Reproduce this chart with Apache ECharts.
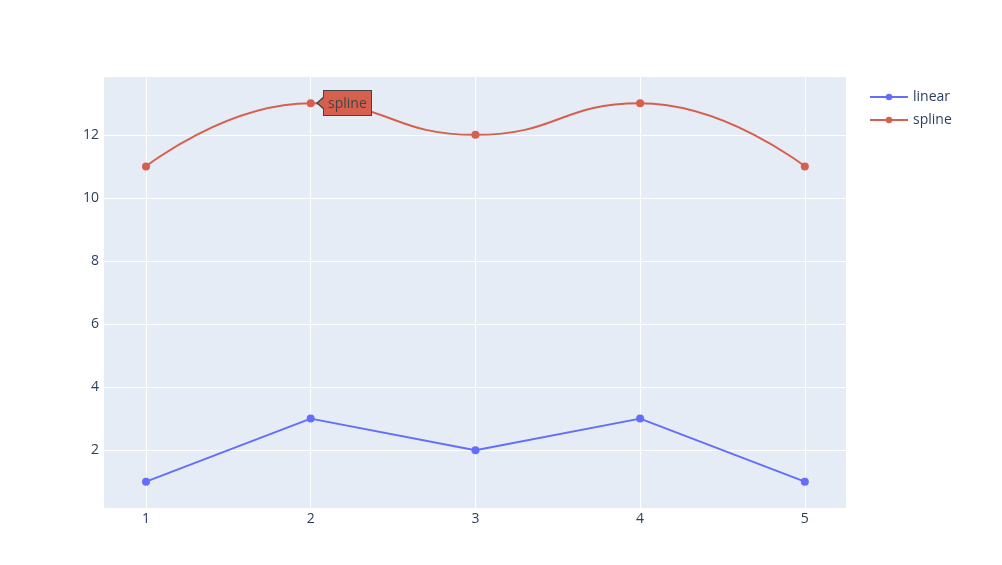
<!DOCTYPE html>
<html>
<head>
<meta charset="utf-8">
<script src="https://cdn.jsdelivr.net/npm/echarts@6/dist/echarts.min.js"></script>
<style>html,body{margin:0;padding:0;background:#fff}#c{width:1002px;height:565px}</style>
</head>
<body>
<div id="c"></div>
<script>
var xValues = [1, 2, 3, 4, 5];
var linearValues = [1, 3, 2, 3, 1];
var splineValues = [11, 13, 12, 13, 11];
var xTicks = [1, 2, 3, 4, 5];
var yTicks = [2, 4, 6, 8, 10, 12];
var seriesNames = ['linear', 'spline'];
var colors = ['#636efa', '#d6604d'];

var chart = echarts.init(document.getElementById('c'), null, {renderer: 'canvas'});
function pairs(vals) { return xValues.map(function (x, i) { return [x, vals[i]]; }); }
var labelFont = {color: '#2a3f5f', fontSize: 14, fontFamily: 'Open Sans'};
chart.setOption({
  animation: false,
  color: colors,
  grid: {left: 104, top: 77, right: 156, bottom: 57, show: true, backgroundColor: '#e5ecf6', borderWidth: 0},
  xAxis: {
    type: 'value', min: 0.745, max: 5.25,
    axisLine: {show: false},
    axisTick: {show: false, customValues: xTicks},
    axisLabel: Object.assign({customValues: xTicks, margin: 4}, labelFont),
    splitLine: {show: true, lineStyle: {color: '#ffffff', width: 1}}
  },
  yAxis: {
    type: 'value', min: 0.165, max: 13.835,
    axisLine: {show: false},
    axisTick: {show: false, customValues: yTicks},
    axisLabel: Object.assign({customValues: yTicks, margin: 5}, labelFont),
    splitLine: {show: true, lineStyle: {color: '#ffffff', width: 1}}
  },
  legend: {
    orient: 'vertical', left: 864, top: 85, itemGap: 9, itemWidth: 38, itemHeight: 8,
    textStyle: {color: '#2a3f5f', fontSize: 14, fontFamily: 'Open Sans'},
    data: seriesNames
  },
  tooltip: {
    trigger: 'item', triggerOn: 'none', alwaysShowContent: true,
    backgroundColor: 'transparent', borderWidth: 0, padding: 0,
    transitionDuration: 0,
    extraCssText: 'box-shadow:none;',
    position: function (pt) { return [pt[0] + 12, pt[1] - 13]; },
    formatter: function (p) {
      var c = p.color;
      return '<div style="position:relative;background:' + c + ';border:1px solid #444;color:#444;' +
        'font:14px \'Open Sans\',sans-serif;padding:2px 4px;line-height:20px;">' + p.seriesName +
        '<span style="position:absolute;left:-8px;top:5px;width:0;height:0;border-top:7px solid transparent;border-bottom:7px solid transparent;border-right:8px solid #444;"></span>' +
        '<span style="position:absolute;left:-6px;top:6px;width:0;height:0;border-top:6px solid transparent;border-bottom:6px solid transparent;border-right:7px solid ' + c + ';"></span>' +
        '</div>';
    }
  },
  series: [
    {name: seriesNames[0], type: 'line', data: pairs(linearValues), symbol: 'circle', symbolSize: 8,
     lineStyle: {width: 2}, itemStyle: {color: colors[0]}},
    {name: seriesNames[1], type: 'line', data: pairs(splineValues), smooth: true, symbol: 'circle', symbolSize: 8,
     lineStyle: {width: 2}, itemStyle: {color: colors[1]}}
  ]
});
chart.dispatchAction({type: 'showTip', seriesIndex: 1, dataIndex: 1});
</script>
</body>
</html>
